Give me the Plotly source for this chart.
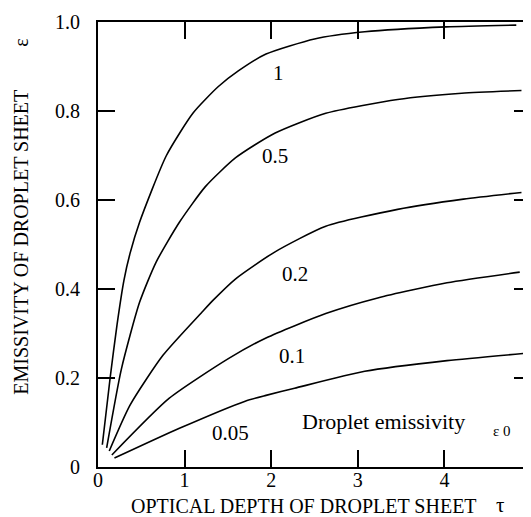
import plotly.graph_objects as go

# droplet emissivity eps0 for each curve, with optical depth tau and sheet emissivity eps
curve_names = ["1", "0.5", "0.2", "0.1", "0.05"]

tau_1 = [0.05, 0.14, 0.22, 0.30, 0.37, 0.48, 0.79, 1.10, 1.39, 1.62, 1.94, 2.5, 3.08, 4.02, 4.83]
eps_1 = [0.05, 0.20, 0.32, 0.42, 0.48, 0.55, 0.70, 0.796, 0.855, 0.89, 0.928, 0.962, 0.978, 0.989, 0.993]

tau_05 = [0.10, 0.27, 0.48, 0.67, 0.94, 1.24, 1.59, 2.04, 2.63, 3.46, 4.2, 4.89]
eps_05 = [0.043, 0.22, 0.37, 0.46, 0.55, 0.63, 0.695, 0.75, 0.795, 0.826, 0.84, 0.846]

tau_02 = [0.13, 0.37, 0.75, 1.21, 1.33, 1.59, 2.04, 2.63, 3.46, 4.22, 4.89]
eps_02 = [0.036, 0.139, 0.251, 0.35, 0.375, 0.423, 0.483, 0.541, 0.579, 0.602, 0.617]

tau_01 = [0.16, 0.82, 1.51, 1.94, 2.63, 3.23, 4.03, 4.87]
eps_01 = [0.027, 0.154, 0.244, 0.29, 0.345, 0.38, 0.414, 0.438]

tau_005 = [0.19, 0.94, 1.70, 1.94, 2.27, 3.08, 4.03, 4.91]
eps_005 = [0.02, 0.087, 0.148, 0.161, 0.177, 0.215, 0.239, 0.255]

curves = [(tau_1, eps_1), (tau_05, eps_05), (tau_02, eps_02), (tau_01, eps_01), (tau_005, eps_005)]

# where the curve labels sit (tau, eps)
label_x = [2.09, 2.04, 2.28, 2.24, 1.53]
label_y = [0.886, 0.698, 0.434, 0.25, 0.076]

x_ticks = [0, 1, 2, 3, 4, 5]
y_ticks = [0, 0.2, 0.4, 0.6, 0.8, 1.0]
y_tick_text = ["0", "0.2", "0.4", "0.6", "0.8", "1.0"]

serif = "Liberation Serif"

fig = go.Figure()

for name, (xs, ys) in zip(curve_names, curves):
    fig.add_trace(go.Scatter(x=xs, y=ys, mode="lines", name=name,
                             line=dict(color="black", width=1.6, shape="spline", smoothing=0.6),
                             showlegend=False))

for name, lx, ly in zip(curve_names, label_x, label_y):
    fig.add_annotation(x=lx, y=ly, text=name, showarrow=False,
                       font=dict(family=serif, size=21, color="black"))

fig.add_annotation(x=3.3, y=0.103, text="Droplet emissivity", showarrow=False,
                   font=dict(family=serif, size=22, color="black"))
fig.add_annotation(x=4.66, y=0.08, text="ε 0", showarrow=False,
                   font=dict(family=serif, size=15, color="black"))

# axis titles as paper annotations
titles = [
    (0.475, -0.087, "OPTICAL DEPTH OF DROPLET SHEET", 0, 20),
    (0.929, -0.085, "τ", 0, 21),
    (-0.178, 0.506, "EMISSIVITY OF DROPLET SHEET", -90, 20),
    (-0.178, 0.953, "ε", -90, 20),
]
for tx, ty, txt, ang, sz in titles:
    fig.add_annotation(xref="paper", yref="paper", x=tx, y=ty, text=txt,
                       textangle=ang, showarrow=False, xanchor="center", yanchor="middle",
                       font=dict(family=serif, size=sz, color="black"))

axis_common = dict(showgrid=False, zeroline=False, showline=True, linecolor="black",
                   linewidth=1.8, mirror="ticks", ticks="inside", ticklen=17,
                   tickwidth=1.5, tickcolor="black",
                   tickfont=dict(family=serif, size=20, color="black"))

fig.update_xaxes(range=[0, 5], tickvals=x_ticks, ticklabelstandoff=-6, **axis_common)
fig.update_yaxes(range=[0, 1.0], tickvals=y_ticks, ticktext=y_tick_text,
                 ticklabelstandoff=12, **axis_common)

fig.update_layout(width=531, height=517,
                  margin=dict(l=90, r=3, t=12, b=58),
                  plot_bgcolor="white", paper_bgcolor="white")

fig.write_html("out.html")
